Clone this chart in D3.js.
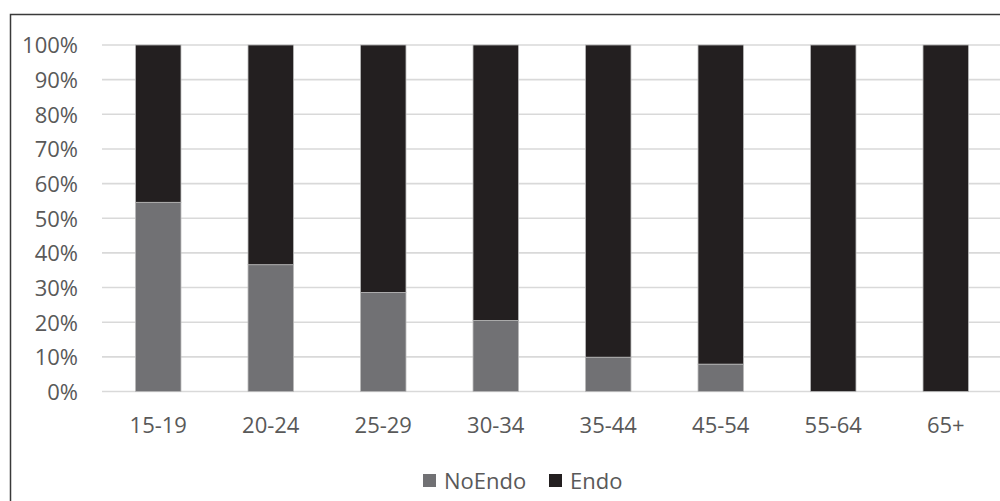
<!DOCTYPE html>
<html>
<head>
<meta charset="utf-8">
<script src="https://cdn.jsdelivr.net/npm/d3@7/dist/d3.min.js"></script>
<style>
  html, body { margin: 0; padding: 0; background: #fff; }
  svg { display: block; }
  text { font-family: "Open Sans", "Liberation Sans", sans-serif; fill: #595959; }
</style>
</head>
<body>
<svg id="chart" width="1000" height="501"></svg>
<script>
// Age groups and share of patients in each group (percent)
const categories = ["15-19", "20-24", "25-29", "30-34", "35-44", "45-54", "55-64", "65+"];
const noEndo = [54.6, 36.6, 28.6, 20.5, 9.9, 7.9, 0, 0];
const endo = [45.4, 63.4, 71.4, 79.5, 90.1, 92.1, 100, 100];
const seriesNames = ["NoEndo", "Endo"];
const seriesColors = ["#717174", "#231f20"];
const yTicks = [0, 10, 20, 30, 40, 50, 60, 70, 80, 90, 100];

const svg = d3.select("#chart");

// Outer frame
svg.append("rect")
  .attr("x", 10.5).attr("y", 14.5)
  .attr("width", 1000).attr("height", 520)
  .attr("fill", "none").attr("stroke", "#3a3a3a").attr("stroke-width", 1.5);

const x = d3.scaleBand()
  .domain(categories)
  .range([102, 1002])
  .paddingInner(0.596)
  .paddingOuter(0.298);

const y = d3.scaleLinear().domain([0, 100]).range([391.5, 45]);

// Horizontal gridlines
svg.append("g")
  .selectAll("line")
  .data(yTicks)
  .join("line")
  .attr("x1", 102).attr("x2", 1002)
  .attr("y1", d => y(d)).attr("y2", d => y(d))
  .attr("stroke", "#d9d9d9").attr("stroke-width", 1.6);

// Y axis labels
const yAxis = d3.axisLeft(y)
  .tickValues(yTicks)
  .tickFormat(d => d + "%")
  .tickSize(0)
  .tickPadding(0);
const yg = svg.append("g").attr("transform", "translate(78,0)").call(yAxis);
yg.select(".domain").remove();
yg.selectAll("text")
  .style("font-size", "22px")
  .attr("fill", "#555555")
  .attr("dy", "0.36em");

// Stacked bars
const rows = categories.map((c, i) => ({ cat: c, NoEndo: noEndo[i], Endo: endo[i] }));
const stacked = d3.stack().keys(seriesNames)(rows);

svg.append("g")
  .selectAll("g")
  .data(stacked)
  .join("g")
  .attr("fill", (d, i) => seriesColors[i])
  .selectAll("rect")
  .data(d => d.filter(s => s[1] - s[0] > 0))
  .join("rect")
  .attr("x", d => x(d.data.cat))
  .attr("width", x.bandwidth())
  .attr("y", d => y(d[1]))
  .attr("height", d => y(d[0]) - y(d[1]))
  .attr("stroke", "#b8b8b8")
  .attr("stroke-width", 0.8);

// X axis labels
const xAxis = d3.axisBottom(x).tickSize(0).tickPadding(0);
const xg = svg.append("g").attr("transform", "translate(0,417)").call(xAxis);
xg.select(".domain").remove();
xg.selectAll("text")
  .style("font-size", "22px")
  .attr("fill", "#555555")
  .attr("dy", "0.71em");

// Legend
const legendItems = [
  { name: "NoEndo", color: seriesColors[0], x: 423 },
  { name: "Endo", color: seriesColors[1], x: 549 }
];
const lg = svg.append("g");
legendItems.forEach(item => {
  lg.append("rect")
    .attr("x", item.x).attr("y", 474)
    .attr("width", 13).attr("height", 13)
    .attr("fill", item.color);
  lg.append("text")
    .attr("x", item.x + 21).attr("y", 481)
    .attr("dy", "0.36em")
    .style("font-size", "22px")
    .attr("fill", "#555555")
    .text(item.name);
});
</script>
</body>
</html>
